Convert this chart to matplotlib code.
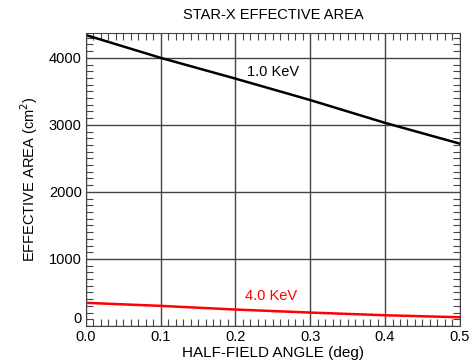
import matplotlib
matplotlib.use("Agg")
import matplotlib.pyplot as plt
from matplotlib.ticker import MultipleLocator

plt.rcParams['font.family'] = ['Liberation Sans', 'DejaVu Sans']

angle = [0.0, 0.1, 0.2, 0.3, 0.4, 0.5]
area_1kev = [4340, 4000, 3690, 3370, 3030, 2720]
area_4kev = [345, 300, 245, 200, 160, 130]

fig = plt.figure(figsize=(4.77, 3.63), dpi=100)
ax = fig.add_axes([0.180, 0.102, 0.784, 0.807])

ax.plot(angle, area_1kev, color="black", lw=1.8)
ax.plot(angle, area_4kev, color="red", lw=1.8)

ax.text(0.25, 3790, "1.0 KeV", ha="center", va="center", fontsize=10.5)
ax.text(0.247, 440, "4.0 KeV", ha="center", va="center", fontsize=10.5, color="red")

ax.set_xlim(0, 0.5)
ax.set_ylim(0, 4370)
ax.xaxis.set_major_locator(MultipleLocator(0.1))
ax.xaxis.set_minor_locator(MultipleLocator(0.01))
ax.yaxis.set_major_locator(MultipleLocator(1000))
ax.yaxis.set_minor_locator(MultipleLocator(100))
ax.xaxis.set_major_formatter(lambda v, p: f"{v:.1f}")
# the "0" on y sits a bit higher than the others, drawn separately below
ax.yaxis.set_major_formatter(lambda v, p: "" if v == 0 else f"{v:.0f}")
ax.tick_params(which="both", direction="in", top=True, right=True, labelsize=10.5)
ax.tick_params(which="major", length=0, pad=3)
ax.tick_params(which="minor", length=5, width=0.8, color="#444444")
ax.grid(True, which="major", color="#444444", lw=1.0)

ax.annotate("0", xy=(0, 0), xycoords="axes fraction", xytext=(-3, 5),
            textcoords="offset points", ha="right", va="center", fontsize=10.5)

ax.set_xlabel("HALF-FIELD ANGLE (deg)", fontsize=11, labelpad=1)
ax.set_ylabel("EFFECTIVE AREA (cm$^2$)", fontsize=10.5, labelpad=6)
ax.set_title("STAR-X EFFECTIVE AREA", fontsize=10.5, pad=10)

for s in ax.spines.values():
    s.set_color("#444444")

fig.savefig("out.png", dpi=100)
